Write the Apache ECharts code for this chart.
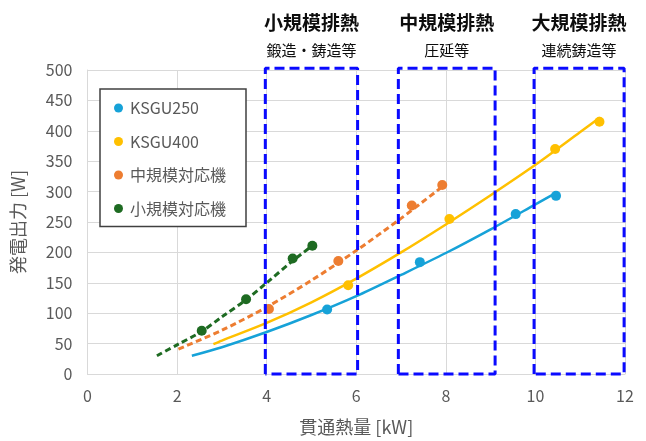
<!DOCTYPE html>
<html>
<head>
<meta charset="utf-8">
<script src="https://cdn.jsdelivr.net/npm/echarts@6/dist/echarts.min.js"></script>
<style>
  html, body { margin: 0; padding: 0; background: #ffffff; }
  #chart { width: 646px; height: 441px; }
</style>
</head>
<body>
<div id="chart"></div>
<script>
// ---- data ----
const seriesNames = ['KSGU250', 'KSGU400', '中規模対応機', '小規模対応機'];

// measured output [heat flow kW, power W]
const ksgu250Points = [[5.35, 106], [7.42, 184], [9.56, 263], [10.46, 293]];
const ksgu400Points = [[5.82, 146], [8.08, 255], [10.44, 370], [11.43, 415]];
const midScalePoints = [[4.05, 107], [5.6, 186], [7.24, 277], [7.92, 311]];
const smallScalePoints = [[2.55, 71], [3.54, 123], [4.58, 190], [5.02, 211]];

// approximate trend curves
const ksgu250Trend = [[2.33, 30], [3, 44], [4, 69], [5, 97], [6, 128], [7, 163], [8, 199], [9, 238], [10, 279], [10.46, 298]];
const ksgu400Trend = [[2.81, 49], [3, 55], [4, 84], [5, 118], [6, 157], [7, 200], [8, 246], [9, 294], [10, 344], [11, 398], [11.44, 422]];
const midScaleTrend = [[2.03, 41], [3, 72], [4, 110], [5, 154], [6, 203], [7, 256], [7.92, 308]];
const smallScaleTrend = [[1.55, 30], [2, 48], [2.55, 70], [3, 94], [3.54, 122], [4, 150], [4.58, 186], [5.02, 211]];

// waste heat classes and their heat-flow ranges
const zoneNames = ['小規模排熱', '中規模排熱', '大規模排熱'];
const zoneExamples = ['鍛造・鋳造等', '圧延等', '連続鋳造等'];
const zoneRanges = [[3.97, 6.03], [6.94, 9.1], [9.97, 11.98]];
const zoneTop = 503;

// axes
const xAxisName = '貫通熱量 [kW]';
const yAxisName = '発電出力 [W]';
const xRange = [0, 12, 2];
const yRange = [0, 500, 50];

// ---- styling ----
const FONT = '"Noto Sans CJK JP", "Noto Sans", sans-serif';
const TEXT = '#595959';
const GRID = '#d9d9d9';
const colors = ['#16a2d8', '#ffc000', '#ed7d31', '#1e6b22'];
const ZONE_BLUE = '#0a0aff';

const pointSets = [ksgu250Points, ksgu400Points, midScalePoints, smallScalePoints];
const trendSets = [ksgu250Trend, ksgu400Trend, midScaleTrend, smallScaleTrend];
const trendDashed = [false, false, true, true];

const series = [];
trendSets.forEach((trend, i) => {
  series.push({
    type: 'line',
    name: seriesNames[i] + '-trend',
    data: trend,
    smooth: 0.3,
    showSymbol: false,
    silent: true,
    z: 2,
    lineStyle: {
      color: colors[i],
      width: trendDashed[i] ? 3 : 2.5,
      type: trendDashed[i] ? [6, 3.5] : 'solid'
    }
  });
});
pointSets.forEach((pts, i) => {
  series.push({
    type: 'scatter',
    name: seriesNames[i],
    data: pts,
    symbol: 'circle',
    symbolSize: 10,
    z: 3,
    itemStyle: { color: colors[i], opacity: 1 }
  });
});
// dashed outlines of each waste heat class
zoneRanges.forEach((r, i) => {
  series.push({
    type: 'line',
    name: zoneNames[i],
    data: [[r[0], 0], [r[0], zoneTop], [r[1], zoneTop], [r[1], 0], [r[0], 0]],
    showSymbol: false,
    silent: true,
    clip: false,
    z: 5,
    lineStyle: { color: ZONE_BLUE, width: 3, type: [10, 5] }
  });
});

const chart = echarts.init(document.getElementById('chart'), null, { renderer: 'canvas' });
chart.setOption({
  animation: false,
  backgroundColor: '#ffffff',
  textStyle: { fontFamily: FONT },
  grid: { left: 87.5, right: 21, top: 70, bottom: 67, containLabel: false },
  xAxis: {
    type: 'value',
    min: xRange[0], max: xRange[1], interval: xRange[2],
    name: xAxisName,
    nameLocation: 'middle',
    nameGap: 44,
    nameTextStyle: { fontFamily: FONT, fontSize: 18, color: TEXT },
    axisLine: { show: true, lineStyle: { color: GRID, width: 1 } },
    axisTick: { show: false },
    axisLabel: { fontFamily: FONT, fontSize: 16, color: TEXT, margin: 14 },
    splitLine: { show: true, lineStyle: { color: GRID, width: 1 } }
  },
  yAxis: {
    type: 'value',
    min: yRange[0], max: yRange[1], interval: yRange[2],
    name: yAxisName,
    nameLocation: 'middle',
    nameGap: 60,
    nameRotate: 90,
    nameTextStyle: { fontFamily: FONT, fontSize: 18, color: TEXT },
    axisLine: { show: true, lineStyle: { color: GRID, width: 1 } },
    axisTick: { show: false },
    axisLabel: { fontFamily: FONT, fontSize: 16, color: TEXT, margin: 15 },
    splitLine: { show: true, lineStyle: { color: GRID, width: 1 } }
  },
  legend: {
    data: seriesNames,
    orient: 'vertical',
    left: 100,
    top: 89,
    padding: [11, 20, 10, 14],
    itemGap: 17.5,
    itemWidth: 9,
    itemHeight: 9,
    icon: 'circle',
    backgroundColor: '#ffffff',
    borderColor: '#404040',
    borderWidth: 1.5,
    borderRadius: 0,
    z: 10,
    textStyle: { fontFamily: FONT, fontSize: 16, color: TEXT, padding: [0, 0, 0, 2] }
  },
  series: series
});

// class titles above each dashed outline
const graphics = [];
zoneRanges.forEach((r, i) => {
  const cx = chart.convertToPixel({ gridIndex: 0 }, [(r[0] + r[1]) / 2, 0])[0];
  graphics.push({
    type: 'text',
    x: cx, y: 23,
    style: {
      text: zoneNames[i], fill: '#0d0d0d',
      font: 'bold 19px ' + FONT,
      align: 'center', verticalAlign: 'middle'
    }
  });
  graphics.push({
    type: 'text',
    x: cx, y: 50,
    style: {
      text: zoneExamples[i], fill: '#0d0d0d',
      font: '15px ' + FONT,
      align: 'center', verticalAlign: 'middle'
    }
  });
});
chart.setOption({ graphic: graphics });
</script>
</body>
</html>
